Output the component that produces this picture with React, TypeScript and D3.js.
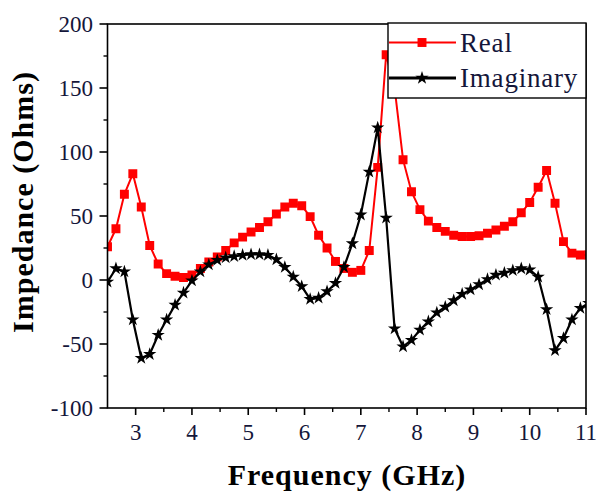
import React from "react";
import * as d3 from "d3";

const freq = [2.5, 2.65, 2.8, 2.95, 3.1, 3.25, 3.4, 3.55, 3.7, 3.85, 4.0, 4.15, 4.3, 4.45, 4.6, 4.75, 4.9, 5.05, 5.2, 5.35, 5.5, 5.65, 5.8, 5.95, 6.1, 6.25, 6.4, 6.55, 6.7, 6.85, 7.0, 7.15, 7.3, 7.45, 7.6, 7.75, 7.9, 8.05, 8.2, 8.35, 8.5, 8.65, 8.8, 8.95, 9.1, 9.25, 9.4, 9.55, 9.7, 9.85, 10.0, 10.15, 10.3, 10.45, 10.6, 10.75, 10.9, 11.05];

const realZ = [26, 40, 67, 83, 57, 27, 12.5, 5, 3, 2, 4, 9, 14, 18, 23, 29, 33.5, 37.5, 41, 45.5, 51.5, 57, 60, 58, 49.5, 35, 25, 14.5, 9, 6, 7.5, 23, 88, 176, 150, 94, 69, 55, 46, 41, 38, 35, 34, 34, 34.5, 36.5, 39, 42, 45.5, 52.5, 60.5, 72.5, 85.5, 60, 30, 21, 19.5, 19.5];

const imagZ = [-1.5, 9, 6.5, -31, -61, -58, -43, -31, -19.5, -10, -0.5, 6.5, 12, 15.5, 17.5, 18.5, 19.5, 20, 20, 19.5, 16, 10, 2.5, -5, -15, -14, -9, -2.5, 10, 28.5, 51, 84.5, 119, 48.5, -38, -52, -47, -39, -32.5, -25.5, -21, -16, -11, -7.5, -3.5, 0.5, 4, 5.5, 7.5, 9, 8, 2.5, -23, -55, -45.5, -31, -22, -18];

const xTicks = [3, 4, 5, 6, 7, 8, 9, 10, 11];
const xMinor = [3.5, 4.5, 5.5, 6.5, 7.5, 8.5, 9.5, 10.5];
const yTicks = [-100, -50, 0, 50, 100, 150, 200];
const yMinor = [-75, -25, 25, 75, 125, 175];
const seriesNames = ["Real", "Imaginary"];

const W = 596, H = 495;
const L = 107.5, R = 586, T = 24, B = 408;
const FONT = "Liberation Serif, Times New Roman, Times, serif";
const LABEL_COLOR = "#14163a";

export default function App() {
  const x = d3.scaleLinear().domain([2.5, 11]).range([L, R]);
  const y = d3.scaleLinear().domain([-100, 200]).range([B, T]);

  const realPts = freq.map((f, i) => [f, realZ[i]] as [number, number]);
  const imagPts = freq.map((f, i) => [f, imagZ[i]] as [number, number]);
  const line = d3.line<[number, number]>().x(d => x(d[0])).y(d => y(d[1]));
  const square = d3.symbol().type(d3.symbolSquare).size(80)();
  const star = d3.symbol().type(d3.symbolStar).size(55)();

  return (
    <svg width={W} height={H} style={{ position: "absolute", left: 0, top: 0, background: "#fff" }}>
      <defs>
        <clipPath id="plotClip">
          <rect x={L} y={T - 6} width={R - L} height={B - T + 6} />
        </clipPath>
      </defs>
      <rect x={0} y={0} width={W} height={H} fill="#fff" />

      <g clipPath="url(#plotClip)">
        <path d={line(realPts) || ""} fill="none" stroke="#ff0000" strokeWidth={2} />
        {realPts.map((p, i) => (
          <path key={"r" + i} d={square || ""} transform={`translate(${x(p[0])},${y(p[1])})`} fill="#ff0000" />
        ))}
        <path d={line(imagPts) || ""} fill="none" stroke="#000" strokeWidth={2.2} />
        {imagPts.map((p, i) => (
          <path key={"i" + i} d={star || ""} transform={`translate(${x(p[0])},${y(p[1])})`} fill="#000" />
        ))}
      </g>

      <rect x={L} y={T} width={R - L} height={B - T} fill="none" stroke="#000" strokeWidth={1.6} />

      {xTicks.map(t => (
        <g key={"xt" + t}>
          <line x1={x(t)} x2={x(t)} y1={B} y2={B + 7} stroke="#000" strokeWidth={1.6} />
          <text x={x(t)} y={440} textAnchor="middle" fontFamily={FONT} fontSize={23} fill={LABEL_COLOR}>{t}</text>
        </g>
      ))}
      {xMinor.map(t => (
        <line key={"xm" + t} x1={x(t)} x2={x(t)} y1={B} y2={B + 4} stroke="#000" strokeWidth={1.4} />
      ))}

      {yTicks.map(t => (
        <g key={"yt" + t}>
          <line x1={L - 8} x2={L} y1={y(t)} y2={y(t)} stroke="#000" strokeWidth={1.6} />
          <text x={93} y={y(t)} dy="0.35em" textAnchor="end" fontFamily={FONT} fontSize={23} fill={LABEL_COLOR}>{t}</text>
        </g>
      ))}
      {yMinor.map(t => (
        <line key={"ym" + t} x1={L - 4} x2={L} y1={y(t)} y2={y(t)} stroke="#000" strokeWidth={1.4} />
      ))}

      <text x={347} y={485} textAnchor="middle" fontFamily={FONT} fontWeight="bold" fontSize={30} letterSpacing={1} fill="#000">Frequency (GHz)</text>
      <text transform="translate(33,202) rotate(-90)" textAnchor="middle" fontFamily={FONT} fontWeight="bold" fontSize={30} letterSpacing={1} fill="#000">Impedance (Ohms)</text>

      <rect x={388} y={23} width={R - 388} height={75} fill="#fff" stroke="#000" strokeWidth={1.4} />
      <line x1={389} x2={456} y1={42.5} y2={42.5} stroke="#ff0000" strokeWidth={2} />
      <path d={square || ""} transform="translate(422,42.5)" fill="#ff0000" />
      <text x={460} y={51.5} fontFamily={FONT} fontSize={27} letterSpacing={0.8} fill={LABEL_COLOR}>{seriesNames[0]}</text>
      <line x1={389} x2={456} y1={78} y2={78} stroke="#000" strokeWidth={3.2} />
      <path d={star || ""} transform="translate(422,78)" fill="#000" />
      <text x={460} y={86.5} fontFamily={FONT} fontSize={27} letterSpacing={0.8} fill={LABEL_COLOR}>{seriesNames[1]}</text>
    </svg>
  );
}
